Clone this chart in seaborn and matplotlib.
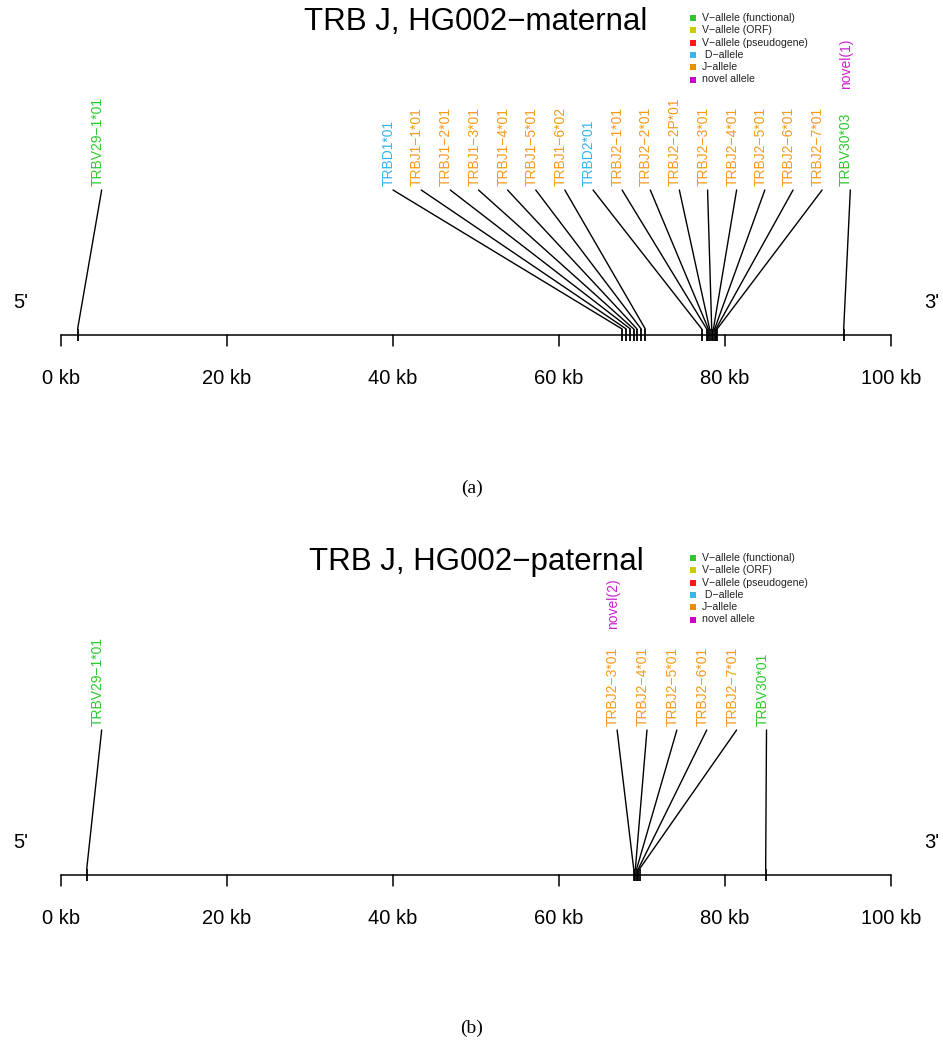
import numpy as np
import pandas as pd
import matplotlib.pyplot as plt
import seaborn as sns

sns.set_theme(style="white")
plt.rcParams['font.family'] = ['Liberation Sans', 'DejaVu Sans']
plt.rcParams['text.color'] = 'black'

MINUS = '\u2212'

# --- legend ---
legend_labels = ['V' + MINUS + 'allele (functional)', 'V' + MINUS + 'allele (ORF)',
                 'V' + MINUS + 'allele (pseudogene)', ' D' + MINUS + 'allele',
                 'J' + MINUS + 'allele', 'novel allele']
legend_colors = ['#2ec82e', '#cccc00', '#ff1a1a', '#35b5e8', '#f08c00', '#cc00cc']
type_colors = {'Vf': '#2ec82e', 'Vorf': '#cccc00', 'Vp': '#ff1a1a',
               'D': '#35b5e8', 'J': '#f59a1c', 'novel': '#cc22cc'}

# --- maternal haplotype (kb) ---
mat_genes = ['TRBV29-1*01', 'TRBD1*01', 'TRBJ1-1*01', 'TRBJ1-2*01', 'TRBJ1-3*01',
             'TRBJ1-4*01', 'TRBJ1-5*01', 'TRBJ1-6*02', 'TRBD2*01', 'TRBJ2-1*01',
             'TRBJ2-2*01', 'TRBJ2-2P*01', 'TRBJ2-3*01', 'TRBJ2-4*01', 'TRBJ2-5*01',
             'TRBJ2-6*01', 'TRBJ2-7*01', 'TRBV30*03']
mat_types = ['Vf', 'D', 'J', 'J', 'J', 'J', 'J', 'J', 'D', 'J',
             'J', 'J', 'J', 'J', 'J', 'J', 'J', 'Vf']
mat_pos = [2.0, 67.6, 68.1, 68.6, 69.0, 69.4, 69.9, 70.4, 77.2, 77.8,
           78.0, 78.15, 78.4, 78.6, 78.75, 78.9, 79.05, 94.3]
mat_label_pos = [4.9, 40.0, 43.4, 46.9, 50.3, 53.8, 57.2, 60.7, 64.1, 67.6,
                 71.0, 74.5, 77.9, 81.4, 84.8, 88.2, 91.7, 95.1]
mat_novel = {'TRBV30*03': 'novel(1)'}

# --- paternal haplotype (kb) ---
pat_genes = ['TRBV29-1*01', 'TRBJ2-3*01', 'TRBJ2-4*01', 'TRBJ2-5*01',
             'TRBJ2-6*01', 'TRBJ2-7*01', 'TRBV30*01']
pat_types = ['Vf', 'J', 'J', 'J', 'J', 'J', 'Vf']
pat_pos = [3.1, 69.0, 69.2, 69.35, 69.55, 69.7, 84.9]
pat_label_pos = [4.9, 67.0, 70.6, 74.2, 77.8, 81.4, 85.0]
pat_novel = {'TRBJ2-3*01': 'novel(2)'}

axis_ticks = [0, 20, 40, 60, 80, 100]

PX = 8.3  # pixels per kb
fig = plt.figure(figsize=(9.43, 10.41), dpi=100)
ax = fig.add_axes([0, 0, 1, 1])
ax.set_xlim(-61 / PX, (943 - 61) / PX)
ax.set_ylim(1041, 0)
ax.axis('off')


def draw_panel(y0, title, genes, types, pos, label_pos, novel, caption):
    axis_y = y0 + 335
    top_y = y0 + 190
    # chromosome axis
    ax.plot([0, 100], [axis_y, axis_y], color='black', lw=1.1)
    for t in axis_ticks:
        ax.plot([t, t], [axis_y, axis_y + 11], color='black', lw=1.1)
        ax.text(t, axis_y + 43, f'{t} kb', ha='center', va='center', fontsize=14.5)
    ax.text(-4.85, y0 + 303, "5'", ha='center', va='center', fontsize=14.5)
    ax.text(104.9, y0 + 303, "3'", ha='center', va='center', fontsize=14.5)

    df = pd.DataFrame({'gene': genes, 'type': types, 'pos': pos, 'lab': label_pos})
    for _, r in df.iterrows():
        ax.plot([r['lab'], r['pos']], [top_y, axis_y - 6], color='black', lw=1.0)
        ax.text(r['lab'] - 0.5, top_y - 4, r['gene'].replace('-', MINUS),
                rotation=90, ha='center', va='bottom', fontsize=10,
                color=type_colors[r['type']])
        if r['gene'] in novel:
            ax.text(r['lab'] - 0.5, y0 + 89, novel[r['gene']], rotation=90,
                    ha='center', va='bottom', fontsize=10, color=type_colors['novel'])
    sns.scatterplot(data=df, x='pos', y=[axis_y] * len(df), marker='|', s=85,
                    color='black', linewidth=1.3, ax=ax, legend=False)

    ax.text(50.0, y0 + 22, title.replace('-', MINUS), ha='center', va='center',
            fontsize=22.5)
    leg_y = y0 + np.array([18, 30, 42.5, 55, 67, 79.5])
    for yy, lab, col in zip(leg_y, legend_labels, legend_colors):
        ax.scatter(76.1, yy, marker='s', s=14, color=col, linewidths=0)
        ax.text(77.2, yy, lab, ha='left', va='center', fontsize=7.6, color='#222222')

    ax.text(49.5, y0 + 488, caption, ha='center', va='center', fontsize=14,
            family=['Liberation Serif', 'DejaVu Serif'])


draw_panel(0, 'TRB J, HG002-maternal', mat_genes, mat_types, mat_pos,
           mat_label_pos, mat_novel, '(a)')
draw_panel(540, 'TRB J, HG002-paternal', pat_genes, pat_types, pat_pos,
           pat_label_pos, pat_novel, '(b)')

fig.savefig('out.png', dpi=100)
